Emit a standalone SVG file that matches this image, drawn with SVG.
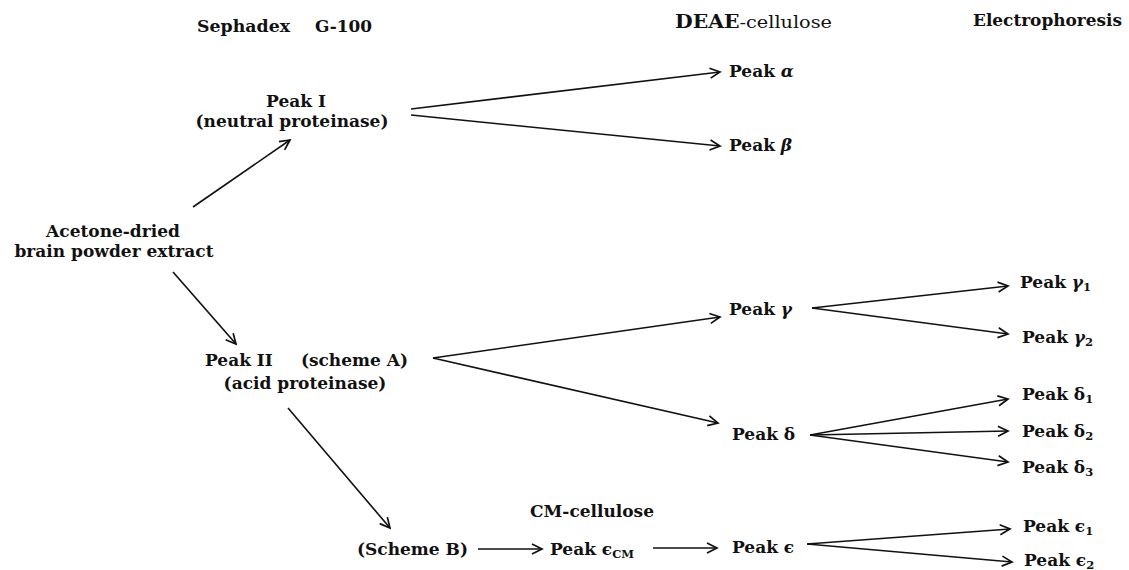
<svg xmlns="http://www.w3.org/2000/svg" width="1129" height="570" viewBox="0 0 1129 570">
<style>
text{font-family:"DejaVu Serif","Liberation Serif",serif;font-size:17px;font-weight:bold;fill:#111}
.it{font-style:italic}
.sub{font-size:11.5px}
.lt{font-weight:normal}
.conn line{stroke:#111;stroke-width:1.6;fill:none;marker-end:url(#ah)}
</style>
<defs>
<marker id="ah" markerUnits="userSpaceOnUse" markerWidth="14" markerHeight="14" viewBox="-12 -7 14 14" refX="0" refY="0" orient="auto">
<path d="M-10,-5 L0,0 L-10,5" fill="none" stroke="#111" stroke-width="1.7"/>
</marker>
</defs>
<rect width="1129" height="570" fill="#fff"/>
<g id="headers">
<text y="32"><tspan x="197" textLength="93" lengthAdjust="spacingAndGlyphs">Sephadex</tspan><tspan x="315" textLength="57" lengthAdjust="spacingAndGlyphs">G-100</tspan></text>
<text x="675" y="28" textLength="157" lengthAdjust="spacingAndGlyphs"><tspan font-size="18">DEAE</tspan><tspan class="lt">-cellulose</tspan></text>
<text x="973" y="26" textLength="149" lengthAdjust="spacingAndGlyphs">Electrophoresis</text>
<text x="530" y="517" textLength="124" lengthAdjust="spacingAndGlyphs">CM-cellulose</text>
</g>
<g id="extract"><text text-anchor="middle" x="113" y="237">Acetone-dried</text><text text-anchor="middle" x="114" y="257">brain powder extract</text></g>
<g id="peakI"><text text-anchor="middle" x="296" y="107">Peak I</text><text text-anchor="middle" x="292" y="127">(neutral proteinase)</text></g>
<g id="peakII"><text x="205" y="366">Peak II</text><text text-anchor="end" x="408" y="366">(scheme A)</text><text text-anchor="middle" x="305" y="389">(acid proteinase)</text></g>
<g id="schemeB"><text x="357" y="555">(Scheme B)</text></g>
<g id="peakAlpha"><text x="729" y="77">Peak <tspan class="it">α</tspan></text></g>
<g id="peakBeta"><text x="729" y="151">Peak <tspan class="it">β</tspan></text></g>
<g id="peakGamma"><text x="729" y="315">Peak <tspan class="it">γ</tspan></text></g>
<g id="peakDelta"><text x="732" y="440">Peak δ</text></g>
<g id="peakEpsCM"><text x="550" y="555">Peak ϵ<tspan class="sub" dy="3">CM</tspan></text></g>
<g id="peakEps"><text x="732" y="553">Peak ϵ</text></g>
<g id="peakGamma1"><text x="1020" y="288">Peak <tspan class="it">γ</tspan><tspan class="sub" dy="3">1</tspan></text></g>
<g id="peakGamma2"><text x="1022" y="343">Peak <tspan class="it">γ</tspan><tspan class="sub" dy="3">2</tspan></text></g>
<g id="peakDelta1"><text x="1022" y="400">Peak δ<tspan class="sub" dy="3">1</tspan></text></g>
<g id="peakDelta2"><text x="1022" y="437">Peak δ<tspan class="sub" dy="3">2</tspan></text></g>
<g id="peakDelta3"><text x="1022" y="473">Peak δ<tspan class="sub" dy="3">3</tspan></text></g>
<g id="peakEps1"><text x="1023" y="532">Peak ϵ<tspan class="sub" dy="3">1</tspan></text></g>
<g id="peakEps2"><text x="1024" y="566">Peak ϵ<tspan class="sub" dy="3">2</tspan></text></g>
<g id="connectors" class="conn">
<line x1="193" y1="207" x2="290" y2="140"/>
<line x1="173" y1="272" x2="236" y2="344"/>
<line x1="411" y1="109" x2="720" y2="72"/>
<line x1="411" y1="115" x2="720" y2="146"/>
<line x1="433" y1="358" x2="720" y2="317"/>
<line x1="433" y1="358" x2="718" y2="423"/>
<line x1="288" y1="408" x2="390" y2="528"/>
<line x1="478" y1="549" x2="542" y2="549"/>
<line x1="653" y1="548" x2="717" y2="548"/>
<line x1="812" y1="308" x2="1008" y2="286"/>
<line x1="812" y1="308" x2="1008" y2="334"/>
<line x1="810" y1="435" x2="1008" y2="399"/>
<line x1="810" y1="435" x2="1008" y2="431"/>
<line x1="810" y1="435" x2="1008" y2="462"/>
<line x1="807" y1="544" x2="1010" y2="529"/>
<line x1="807" y1="544" x2="1012" y2="562"/>
</g>
</svg>
